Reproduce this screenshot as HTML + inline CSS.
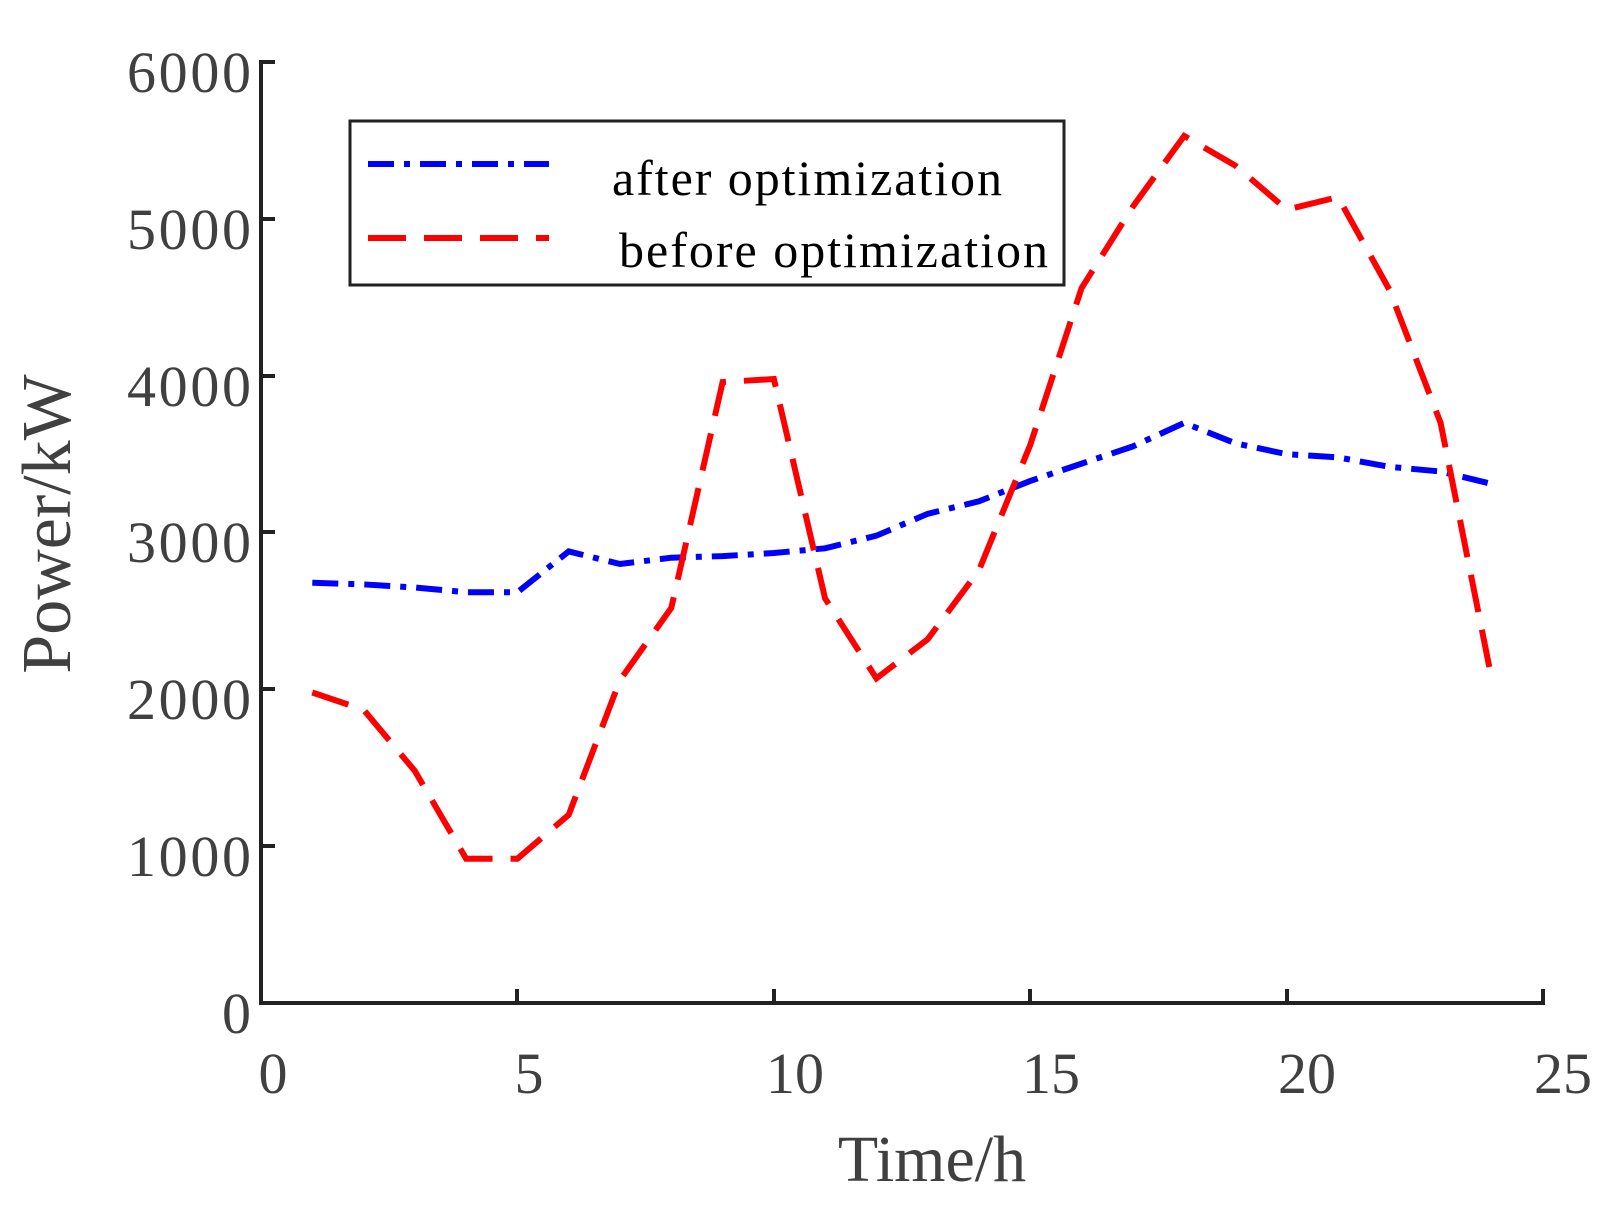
<!DOCTYPE html>
<html><head><meta charset="utf-8"><style>body{margin:0;background:#fff}svg{display:block}</style></head>
<body>
<svg width="1624" height="1205" viewBox="0 0 1624 1205" xmlns="http://www.w3.org/2000/svg" font-family="'Liberation Serif',serif">
<rect width="1624" height="1205" fill="#fff"/>
<g stroke="#222" stroke-width="4" fill="none">
<path d="M275,62 H261 V1003 H1543 V989"/>
<path d="M261,219 H275 M261,376 H275 M261,532 H275 M261,689 H275 M261,846 H275"/>
<path d="M517,1003 V989 M774,1003 V989 M1030,1003 V989 M1287,1003 V989"/>
</g>
<g fill="#404040" font-size="58" text-anchor="end">
<text x="251" y="92" textLength="124">6000</text><text x="251" y="249" textLength="124">5000</text><text x="251" y="406" textLength="124">4000</text>
<text x="251" y="562" textLength="124">3000</text><text x="251" y="719" textLength="124">2000</text><text x="251" y="876" textLength="124">1000</text><text x="251" y="1033">0</text>
</g>
<g fill="#404040" font-size="58" text-anchor="middle">
<text x="273" y="1093">0</text><text x="529" y="1093">5</text><text x="795" y="1093">10</text>
<text x="1051" y="1093">15</text><text x="1307" y="1093">20</text><text x="1563" y="1093">25</text>
</g>
<text x="932" y="1181" fill="#404040" font-size="66" text-anchor="middle">Time/h</text>
<text transform="translate(70,524) rotate(-90)" fill="#404040" font-size="70" text-anchor="middle">Power/kW</text>
<polyline fill="none" stroke="#0000ff" stroke-width="6" stroke-dasharray="26,10,6,10" points="312.3,582.8 363.6,584.4 414.8,587.5 466.1,592.2 517.4,592.2 568.7,551.4 620,564 671.3,557.7 722.6,556.1 773.9,553 825.1,548.3 876.4,535.7 927.7,513.8 979,501.3 1030.3,480.9 1081.6,463.6 1132.9,446.4 1184.2,422.9 1235.5,443.3 1286.8,454.2 1338,457.4 1389.3,466.8 1440.6,471.5 1491.9,484"/>
<polyline fill="none" stroke="#ff0000" stroke-width="6" stroke-dasharray="38,18" points="312.3,692.5 363.6,709.8 414.8,770.9 466.1,858.7 517.4,858.7 568.7,814.8 620,680 671.3,607.9 722.6,382.1 773.9,379 825.1,598.5 876.4,678.4 927.7,639.2 979,570.2 1030.3,444.8 1081.6,288 1132.9,206.5 1184.2,135.9 1235.5,165.7 1286.8,209.6 1338,197.1 1389.3,289.6 1440.6,422.9 1491.9,680"/>
<rect x="350" y="121" width="714" height="164" fill="#fff" stroke="#222" stroke-width="3"/>
<line x1="368" y1="164" x2="549" y2="164" stroke="#0000ff" stroke-width="6" stroke-dasharray="26,10,6,10"/>
<line x1="368" y1="238" x2="549" y2="238" stroke="#ff0000" stroke-width="6" stroke-dasharray="38,18"/>
<text x="612" y="195" font-size="50" fill="#000" textLength="390">after optimization</text>
<text x="619" y="267" font-size="50" fill="#000" textLength="429">before optimization</text>
</svg>
</body></html>
